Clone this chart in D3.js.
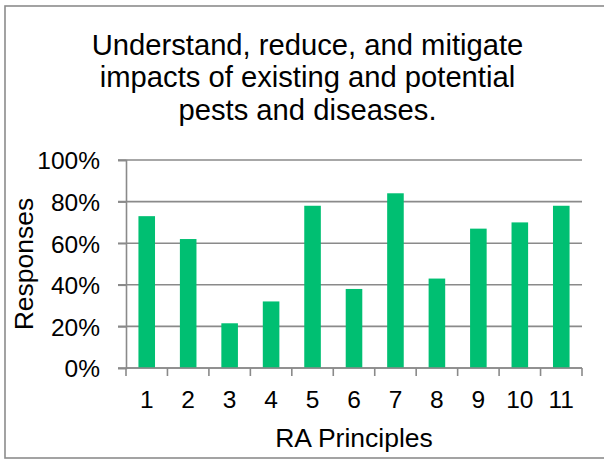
<!DOCTYPE html>
<html>
<head>
<meta charset="utf-8">
<script src="https://cdn.jsdelivr.net/npm/d3@7"></script>
<style>
  html, body { margin: 0; padding: 0; background: #fff; }
  svg { display: block; }
  text { font-family: "Liberation Sans", Arial, sans-serif; fill: #000; }
</style>
</head>
<body>
<script>
const categories = ["1", "2", "3", "4", "5", "6", "7", "8", "9", "10", "11"];
const responses = [73, 62, 21.5, 32, 78, 38, 84, 43, 67, 70, 78];
const yTickValues = [0, 20, 40, 60, 80, 100];
const titleLines = ["Understand, reduce, and mitigate", "impacts of existing and potential", "pests and diseases."];
const xAxisTitle = "RA Principles";
const yAxisTitle = "Responses";

(function () {
const W = 604, H = 459;
const pLeft = 126, pRight = 582, pTop = 160, pBottom = 368;
const gridColor = "#8a8a8a";
const barColor = "#00bf72";

const svg = d3.select("body").append("svg").attr("width", W).attr("height", H);

// outer frame
svg.append("rect")
  .attr("x", 5).attr("y", 6)
  .attr("width", 640).attr("height", 452)
  .attr("fill", "none").attr("stroke", "#8c8c8c").attr("stroke-width", 1.6);

const x = d3.scaleBand().domain(categories).range([pLeft, pRight]).paddingInner(0.6).paddingOuter(0.3);
const y = d3.scaleLinear().domain([0, 100]).range([pBottom, pTop]);

// gridlines
svg.append("g").selectAll("line").data(yTickValues).join("line")
  .attr("x1", pLeft - 8).attr("x2", pRight)
  .attr("y1", d => y(d)).attr("y2", d => y(d))
  .attr("stroke", gridColor).attr("stroke-width", 1.6);

// y axis
const yAxis = svg.append("g").attr("transform", `translate(${pLeft},0)`)
  .call(d3.axisLeft(y).tickValues(yTickValues).tickFormat(d => d + "%").tickSize(8).tickPadding(18));
yAxis.select(".domain").attr("stroke", gridColor).attr("stroke-width", 1.6);
yAxis.selectAll(".tick line").attr("stroke", gridColor).attr("stroke-width", 1.6);
yAxis.selectAll(".tick text").attr("font-size", 24.5).attr("font-family", "Liberation Sans, Arial, sans-serif").attr("fill", "#000").attr("dy", "0.36em");

// bars
svg.append("g").selectAll("rect").data(responses).join("rect")
  .attr("x", (d, i) => x(categories[i]))
  .attr("width", x.bandwidth())
  .attr("y", d => y(d))
  .attr("height", d => y(0) - y(d))
  .attr("fill", barColor);

// x axis
const xg = svg.append("g").attr("transform", `translate(0,${pBottom})`);
xg.append("line").attr("x1", pLeft).attr("x2", pRight).attr("y1", 0).attr("y2", 0)
  .attr("stroke", gridColor).attr("stroke-width", 1.6);
const gap = x.step() - x.bandwidth();
const boundaries = categories.map(c => x(c) - gap / 2).concat([pRight]);
xg.selectAll("line.tk").data(boundaries).join("line").attr("class", "tk")
  .attr("x1", d => d).attr("x2", d => d).attr("y1", 0).attr("y2", 8)
  .attr("stroke", gridColor).attr("stroke-width", 1.6);
const xAxis = xg.append("g").call(d3.axisBottom(x).tickSize(0).tickPadding(0));
xAxis.select(".domain").remove();
xAxis.selectAll(".tick text").attr("font-size", 24.5).attr("font-family", "Liberation Sans, Arial, sans-serif")
  .attr("fill", "#000").attr("y", 40).attr("dy", 0);

// x axis title
svg.append("text").attr("x", (pLeft + pRight) / 2).attr("y", 447)
  .attr("text-anchor", "middle").attr("font-size", 26.5).text(xAxisTitle);

// y axis title
svg.append("text").attr("transform", `translate(33,${(pTop + pBottom) / 2}) rotate(-90)`)
  .attr("text-anchor", "middle").attr("font-size", 26.5).text(yAxisTitle);

// chart title
svg.append("g").selectAll("text").data(titleLines).join("text")
  .attr("x", 307.5).attr("y", (d, i) => 54.5 + i * 32.5)
  .attr("text-anchor", "middle").attr("font-size", 29.2).text(d => d);
})();
</script>
</body>
</html>
